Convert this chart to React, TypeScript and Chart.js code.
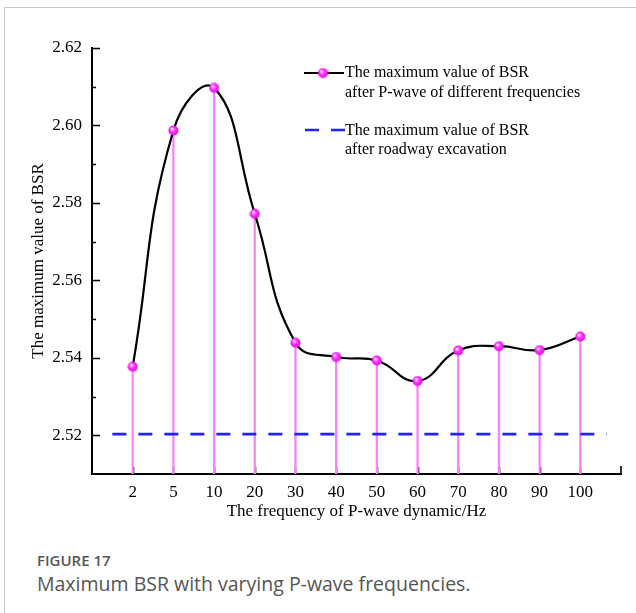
import React, { useEffect, useRef } from "react";
import { Chart, registerables } from "chart.js";

Chart.register(...registerables);

// ---- data ----
const FREQ_LABELS = ["2", "5", "10", "20", "30", "40", "50", "60", "70", "80", "90", "100"];
const FREQ_POS = [1, 2, 3, 4, 5, 6, 7, 8, 9, 10, 11, 12];
const BSR_MAX = [2.5377, 2.5987, 2.6097, 2.5772, 2.5439, 2.5402, 2.5393, 2.534, 2.5419, 2.543, 2.542, 2.5455];
const EXCAVATION_BSR = 2.5203;
const EXCAVATION_SPAN = [0.5, 12.65];
const Y_TICKS = [2.52, 2.54, 2.56, 2.58, 2.6, 2.62];
const Y_MINOR = [2.53, 2.55, 2.57, 2.59, 2.61];
const Y_MIN = 2.51;
const Y_MAX = 2.62;
const X_MIN = 0;
const X_MAX = 13;
const LEGEND_1 = ["The maximum value of BSR", "after P-wave of different frequencies"];
const LEGEND_2 = ["The maximum value of BSR", "after roadway excavation"];
const X_TITLE = "The frequency of P-wave dynamic/Hz";
const Y_TITLE = "The maximum value of BSR";

const SERIF = "'Liberation Serif', 'Times New Roman', serif";

function makeSphere(): HTMLCanvasElement {
  const c = document.createElement("canvas");
  c.width = 11;
  c.height = 11;
  const g = c.getContext("2d")!;
  const grad = g.createRadialGradient(4, 3.8, 0.5, 5.5, 5.5, 5.5);
  grad.addColorStop(0, "#ffe6ff");
  grad.addColorStop(0.35, "#ff40ff");
  grad.addColorStop(1, "#e000e0");
  g.fillStyle = grad;
  g.beginPath();
  g.arc(5.5, 5.5, 5, 0, Math.PI * 2);
  g.fill();
  return c;
}

export default function App() {
  const ref = useRef<HTMLCanvasElement>(null);

  useEffect(() => {
    const canvas = ref.current!;
    const sphere = makeSphere();

    const innerTicks = {
      id: "innerTicks",
      beforeDatasetsDraw(chart: any) {
        const { ctx, chartArea, scales } = chart;
        const { left, bottom } = chartArea;
        ctx.save();
        ctx.strokeStyle = "#000";
        ctx.lineWidth = 1.6;
        ctx.beginPath();
        FREQ_POS.forEach((v) => {
          const px = Math.round(scales.x.getPixelForValue(v)) + 0.5;
          ctx.moveTo(px, bottom);
          ctx.lineTo(px, bottom - 7);
        });
        const ex = scales.x.getPixelForValue(X_MAX);
        ctx.moveTo(ex, bottom);
        ctx.lineTo(ex, bottom - 8);
        Y_TICKS.forEach((v) => {
          const py = Math.round(scales.y.getPixelForValue(v)) + 0.5;
          ctx.moveTo(left, py);
          ctx.lineTo(left + 8, py);
        });
        Y_MINOR.forEach((v) => {
          const py = Math.round(scales.y.getPixelForValue(v)) + 0.5;
          ctx.moveTo(left, py);
          ctx.lineTo(left + 4, py);
        });
        ctx.stroke();
        ctx.restore();
      },
    };

    const legendPlugin = {
      id: "customLegend",
      afterDraw(chart: any) {
        const { ctx } = chart;
        ctx.save();
        ctx.font = `16px ${SERIF}`;
        ctx.fillStyle = "#000";
        ctx.textBaseline = "middle";
        ctx.textAlign = "left";
        // entry 1
        ctx.strokeStyle = "#000";
        ctx.lineWidth = 2;
        ctx.beginPath();
        ctx.moveTo(304, 73);
        ctx.lineTo(344, 73);
        ctx.stroke();
        ctx.drawImage(sphere, 323 - 5.5, 73 - 5.5);
        ctx.fillText(LEGEND_1[0], 345, 73);
        ctx.fillText(LEGEND_1[1], 345, 92.5);
        // entry 2
        ctx.strokeStyle = "#2323ff";
        ctx.lineWidth = 2.5;
        ctx.setLineDash([14, 12]);
        ctx.beginPath();
        ctx.moveTo(305, 130);
        ctx.lineTo(345, 130);
        ctx.stroke();
        ctx.setLineDash([]);
        ctx.fillText(LEGEND_2[0], 345, 131);
        ctx.fillText(LEGEND_2[1], 345, 149.5);
        ctx.restore();
      },
    };

    const chart = new Chart(canvas, {
      type: "line",
      data: {
        datasets: [
          {
            type: "line",
            label: LEGEND_1.join(" "),
            data: FREQ_POS.map((x, i) => ({ x, y: BSR_MAX[i] })),
            borderColor: "#000",
            borderWidth: 2.2,
            tension: 0.45,
            pointStyle: sphere as any,
            pointRadius: 5,
            order: 1,
          },
          {
            type: "line",
            label: LEGEND_2.join(" "),
            data: EXCAVATION_SPAN.map((x) => ({ x, y: EXCAVATION_BSR })),
            borderColor: "#2323ff",
            borderWidth: 2.6,
            borderDash: [14, 12],
            pointRadius: 0,
            order: 2,
          },
          {
            type: "bar",
            label: "stems",
            data: FREQ_POS.map((x, i) => ({ x, y: [Y_MIN, BSR_MAX[i]] })) as any,
            backgroundColor: "#ff80ff",
            barThickness: 1.6,
            order: 3,
          },
        ],
      },
      options: {
        responsive: false,
        animation: false,
        devicePixelRatio: 1,
        layout: { padding: { top: 48, right: 15, left: 0, bottom: 0 } },
        plugins: {
          legend: { display: false },
          tooltip: { enabled: false },
        },
        scales: {
          x: {
            type: "linear",
            min: X_MIN,
            max: X_MAX,
            offset: false,
            afterBuildTicks: (axis: any) => {
              axis.ticks = FREQ_POS.map((v) => ({ value: v }));
            },
            afterFit: (s: any) => {
              s.height = 60;
            },
            grid: { display: false, drawTicks: false },
            border: { display: true, color: "#000", width: 2 },
            ticks: {
              autoSkip: false,
              maxRotation: 0,
              padding: 8,
              color: "#000",
              font: { family: SERIF, size: 17 },
              callback: (v: any) => FREQ_LABELS[FREQ_POS.indexOf(Number(v))] ?? "",
            },
            title: {
              display: true,
              text: X_TITLE,
              color: "#000",
              font: { family: SERIF, size: 17 },
              padding: { top: 0, bottom: 12 },
            },
          },
          y: {
            type: "linear",
            min: Y_MIN,
            max: Y_MAX,
            afterBuildTicks: (axis: any) => {
              axis.ticks = Y_TICKS.map((v) => ({ value: v }));
            },
            afterFit: (s: any) => {
              s.width = 92;
            },
            grid: { display: false, drawTicks: false },
            border: { display: true, color: "#000", width: 2 },
            ticks: {
              padding: 10,
              color: "#000",
              font: { family: SERIF, size: 17 },
              callback: (v: any) => Number(v).toFixed(2),
            },
            title: {
              display: true,
              text: Y_TITLE,
              color: "#000",
              font: { family: SERIF, size: 17 },
              padding: { top: 28, bottom: 0 },
            },
          },
        },
      },
      plugins: [innerTicks, legendPlugin],
    });

    return () => chart.destroy();
  }, []);

  return (
    <div style={{ position: "absolute", left: 0, top: 0, width: 636, height: 613, background: "#fff", overflow: "hidden" }}>
      <div
        style={{
          position: "absolute",
          left: 4,
          top: 7,
          width: 640,
          height: 620,
          borderLeft: "1px solid #c8c8c8",
          borderTop: "1px solid #c8c8c8",
        }}
      />
      <canvas ref={ref} width={636} height={534} style={{ position: "absolute", left: 0, top: 0, width: 636, height: 534 }} />
      <div
        style={{
          position: "absolute",
          left: 37,
          top: 550,
          fontFamily: "'Open Sans', sans-serif",
          color: "#555",
          whiteSpace: "nowrap",
        }}
      >
        <div style={{ fontSize: 15, fontWeight: 600, lineHeight: "21px" }}>FIGURE 17</div>
        <div style={{ fontSize: 19.5, fontWeight: 400, lineHeight: "25px" }}>Maximum BSR with varying P-wave frequencies.</div>
      </div>
    </div>
  );
}
